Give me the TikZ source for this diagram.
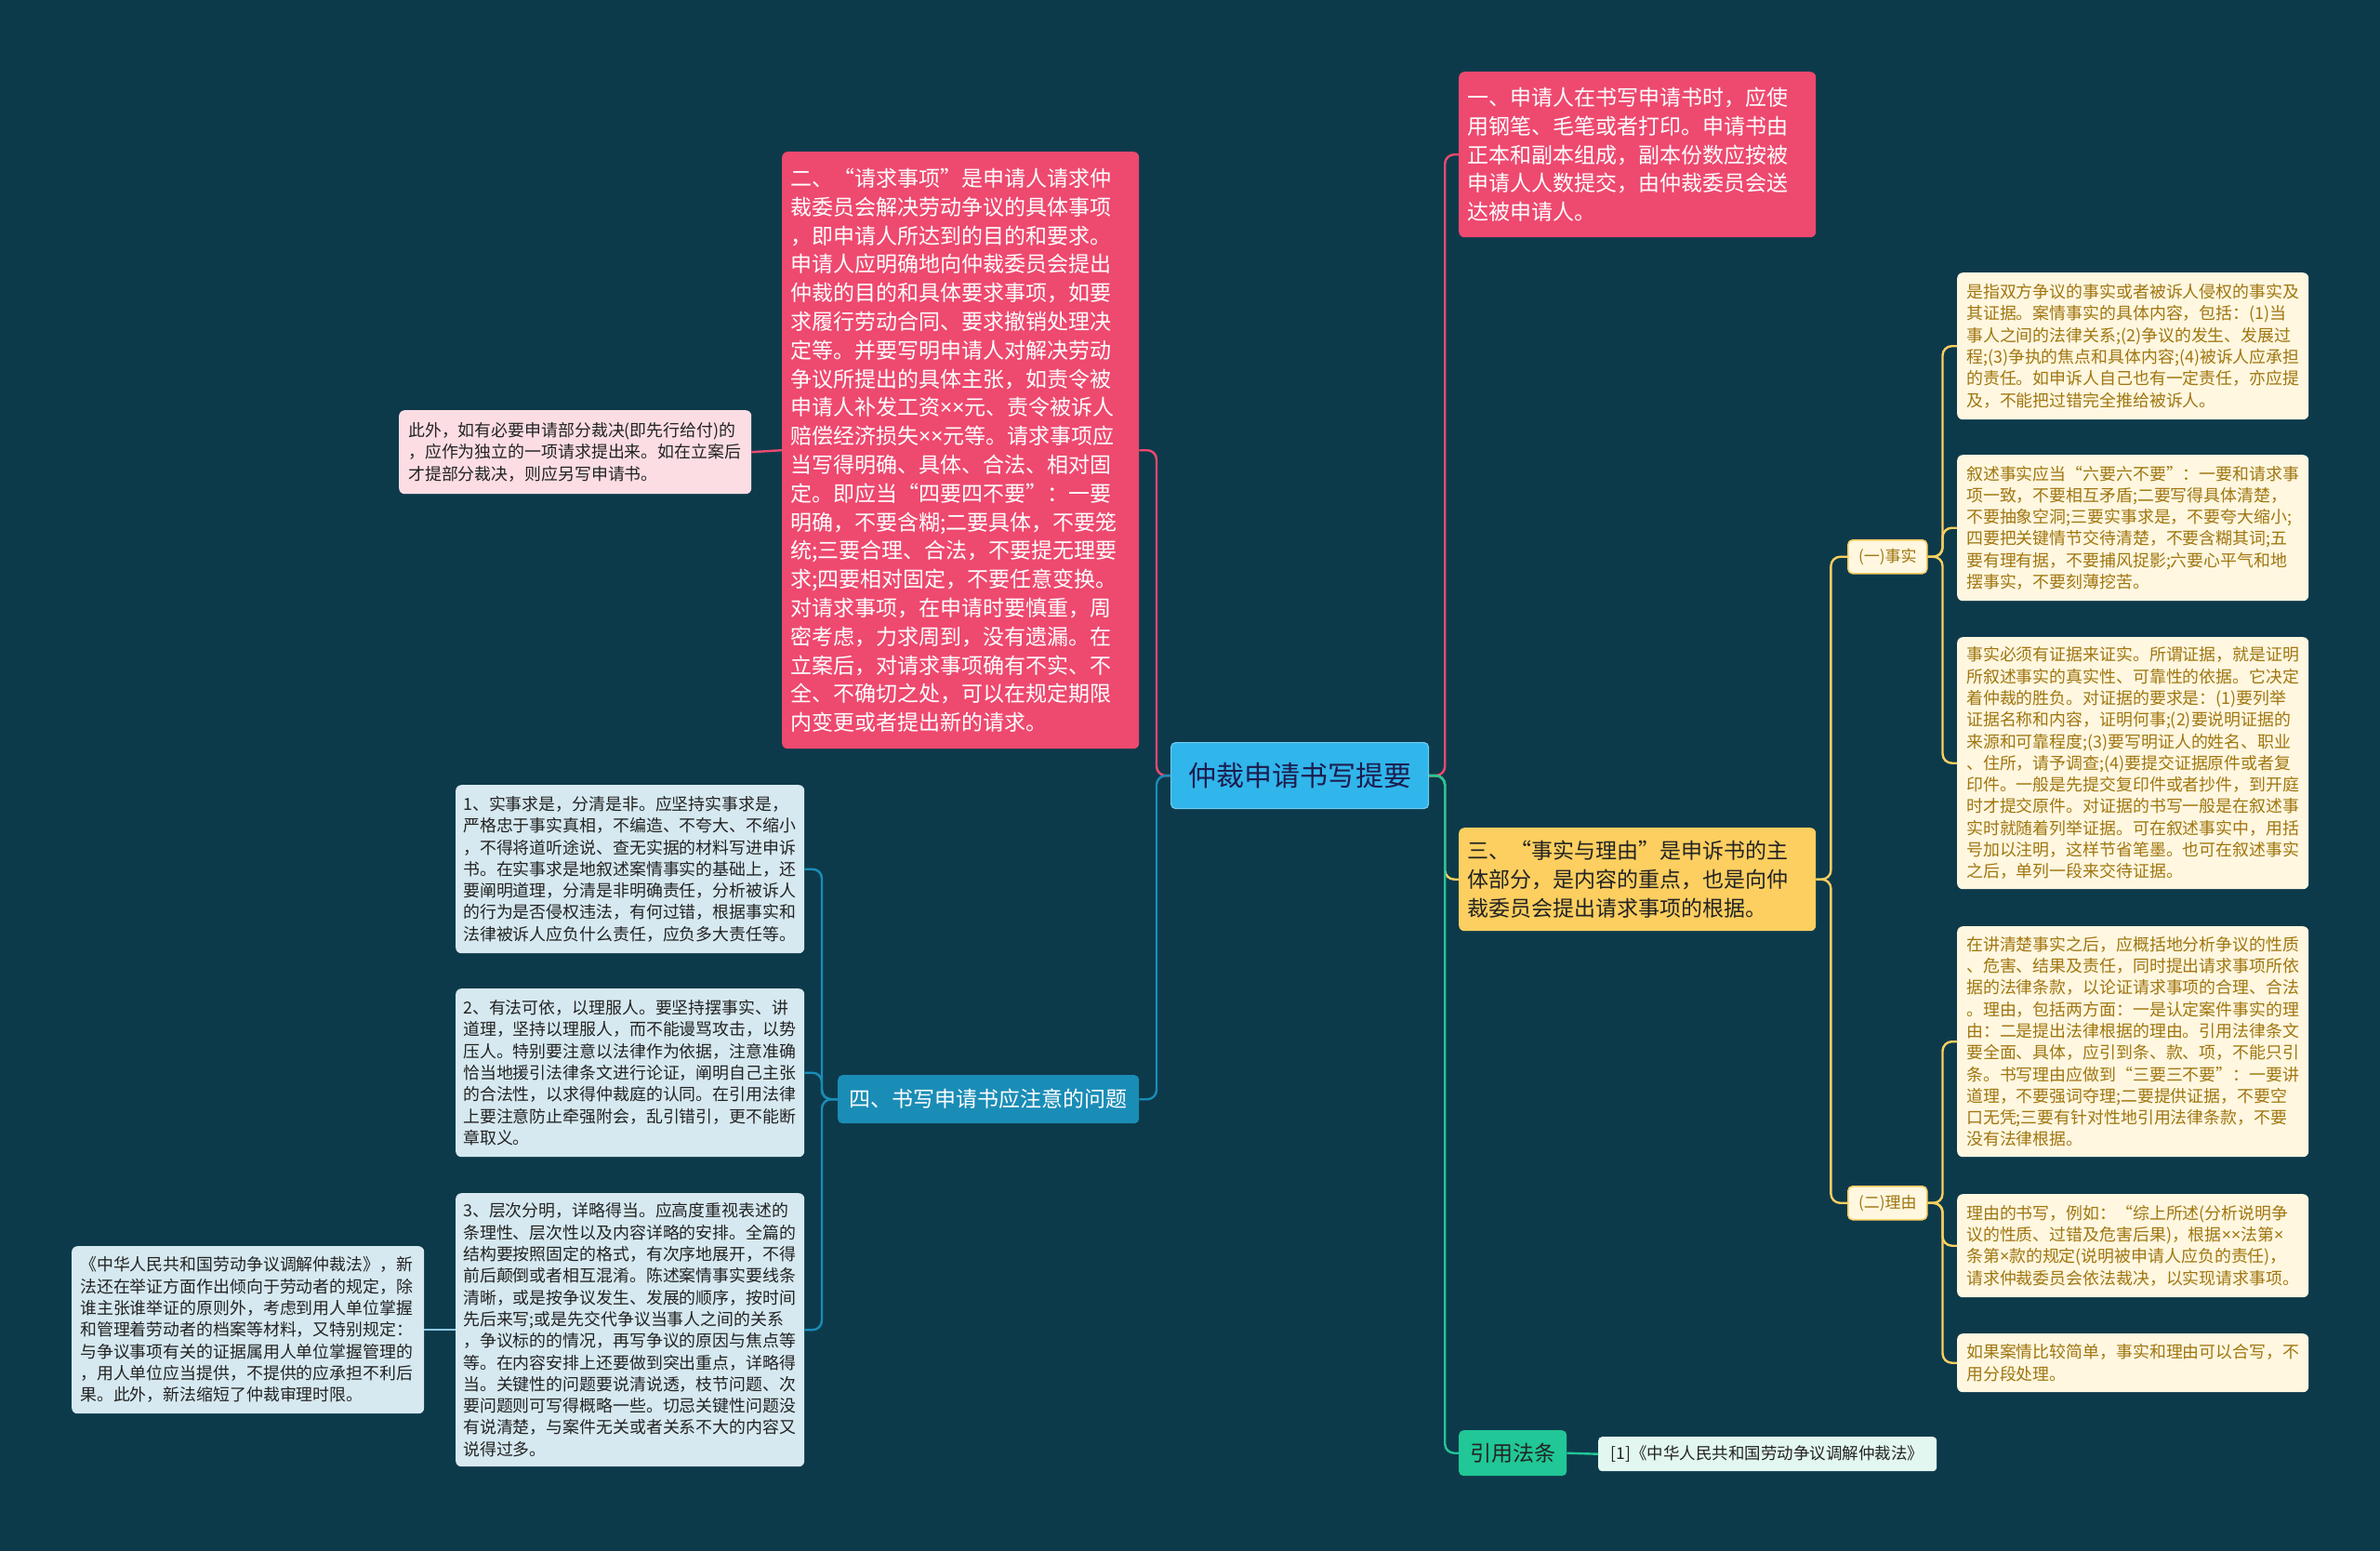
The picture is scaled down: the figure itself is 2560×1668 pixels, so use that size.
\documentclass[tikz,border=0pt]{standalone}
\usepackage{fontspec}
\newfontfamily\cjk{Noto Sans CJK SC}
\newfontfamily\lat{Noto Sans}
\newcommand{\mul}{{\lat ×}}
\definecolor{bgC}{RGB}{13,58,75}
\definecolor{pinkC}{RGB}{238,73,111}
\definecolor{lpinkC}{RGB}{252,221,228}
\definecolor{centerC}{RGB}{48,182,235}
\definecolor{blueC}{RGB}{26,141,183}
\definecolor{lblueC}{RGB}{214,233,240}
\definecolor{llineC}{RGB}{140,200,225}
\definecolor{yellowC}{RGB}{252,207,96}
\definecolor{creamC}{RGB}{255,247,224}
\definecolor{goldC}{RGB}{160,118,16}
\definecolor{greenC}{RGB}{33,199,150}
\definecolor{mintC}{RGB}{226,247,240}
\definecolor{darkC}{RGB}{35,35,35}
\tikzset{
  box/.style={rectangle, rounded corners=6pt, anchor=north west, inner xsep=10pt, inner ysep=0pt, align=left},
  bigtxt/.style={font=\cjk\fontsize{23}{30.8}\selectfont},
  smalltxt/.style={font=\cjk\fontsize{17.9}{23.3}\selectfont},
  pinknode/.style={box, bigtxt, fill=pinkC, text=white, inner xsep=9pt},
  lpinknode/.style={box, smalltxt, fill=lpinkC, text=darkC},
  lbluenode/.style={box, smalltxt, fill=lblueC, text=darkC, inner xsep=8pt},
  creamnode/.style={box, smalltxt, fill=creamC, text=goldC},
  tagnode/.style={rectangle, rounded corners=5pt, anchor=north west, fill=creamC, draw=yellowC, line width=1.5pt, text=goldC, font=\cjk\fontsize{17}{20}\selectfont, inner sep=0pt, align=center},
  conn/.style={line width=2.4pt, rounded corners=10pt},
  pinkline/.style={conn, draw=pinkC},
  blueline/.style={conn, draw=blueC},
  lblueline/.style={conn, draw=llineC},
  yellowline/.style={conn, draw=yellowC},
  greenline/.style={conn, draw=greenC},
}
\begin{document}
\begin{tikzpicture}[x=1pt, y=-1pt]
\fill[bgC] (0,0) rectangle (2560,1668);
\useasboundingbox (0,0) rectangle (2560,1668);

% center
\node[rectangle, rounded corners=5pt, anchor=north west, fill=centerC, draw=centerC!70!white, line width=1.2pt,
      minimum width=277pt, minimum height=71pt, inner sep=0pt, text=darkC!80!blue,
      font=\cjk\fontsize{30}{34}\selectfont] (c) at (1259,798) {仲裁申请书写提要};

% right top pink
\node[pinknode, text width=366pt, minimum height=178pt] (p1) at (1569,77) {一、申请人在书写申请书时，应使\\用钢笔、毛笔或者打印。申请书由\\正本和副本组成，副本份数应按被\\申请人人数提交，由仲裁委员会送\\达被申请人。};

% left big pink
\node[pinknode, text width=366pt, minimum height=642pt] (p2) at (841,163) {二、“请求事项”是申请人请求仲\\裁委员会解决劳动争议的具体事项\\，即申请人所达到的目的和要求。\\申请人应明确地向仲裁委员会提出\\仲裁的目的和具体要求事项，如要\\求履行劳动合同、要求撤销处理决\\定等。并要写明申请人对解决劳动\\争议所提出的具体主张，如责令被\\申请人补发工资\mul\mul 元、责令被诉人\\赔偿经济损失\mul\mul 元等。请求事项应\\当写得明确、具体、合法、相对固\\定。即应当“四要四不要”：一要\\明确，不要含糊;二要具体，不要笼\\统;三要合理、合法，不要提无理要\\求;四要相对固定，不要任意变换。\\对请求事项，在申请时要慎重，周\\密考虑，力求周到，没有遗漏。在\\立案后，对请求事项确有不实、不\\全、不确切之处，可以在规定期限\\内变更或者提出新的请求。};

\node[lpinknode, text width=359pt, minimum height=90pt] (p2a) at (429,441) {此外，如有必要申请部分裁决(即先行给付)的\\，应作为独立的一项请求提出来。如在立案后\\才提部分裁决，则应另写申请书。};

% four
\node[rectangle, rounded corners=5pt, anchor=north west, fill=blueC, text=white, minimum width=324pt, minimum height=52pt, inner sep=0pt,
      font=\cjk\fontsize{23}{26}\selectfont] (n4) at (901,1156) {四、书写申请书应注意的问题};

\node[lbluenode, text width=359pt, minimum height=181pt] (b1) at (490,844) {1、实事求是，分清是非。应坚持实事求是，\\严格忠于事实真相，不编造、不夸大、不缩小\\，不得将道听途说、查无实据的材料写进申诉\\书。在实事求是地叙述案情事实的基础上，还\\要阐明道理，分清是非明确责任，分析被诉人\\的行为是否侵权违法，有何过错，根据事实和\\法律被诉人应负什么责任，应负多大责任等。};

\node[lbluenode, text width=359pt, minimum height=181pt] (b2) at (490,1063) {2、有法可依，以理服人。要坚持摆事实、讲\\道理，坚持以理服人，而不能谩骂攻击，以势\\压人。特别要注意以法律作为依据，注意准确\\恰当地援引法律条文进行论证，阐明自己主张\\的合法性，以求得仲裁庭的认同。在引用法律\\上要注意防止牵强附会，乱引错引，更不能断\\章取义。};

\node[lbluenode, text width=359pt, minimum height=294pt] (b3) at (490,1283) {3、层次分明，详略得当。应高度重视表述的\\条理性、层次性以及内容详略的安排。全篇的\\结构要按照固定的格式，有次序地展开，不得\\前后颠倒或者相互混淆。陈述案情事实要线条\\清晰，或是按争议发生、发展的顺序，按时间\\先后来写;或是先交代争议当事人之间的关系\\，争议标的的情况，再写争议的原因与焦点等\\等。在内容安排上还要做到突出重点，详略得\\当。关键性的问题要说清说透，枝节问题、次\\要问题则可写得概略一些。切忌关键性问题没\\有说清楚，与案件无关或者关系不大的内容又\\说得过多。};

\node[lbluenode, text width=361pt, minimum height=180pt, inner xsep=9pt] (law) at (77,1340) {《中华人民共和国劳动争议调解仲裁法》，新\\法还在举证方面作出倾向于劳动者的规定，除\\谁主张谁举证的原则外，考虑到用人单位掌握\\和管理着劳动者的档案等材料，又特别规定：\\与争议事项有关的证据属用人单位掌握管理的\\，用人单位应当提供，不提供的应承担不利后\\果。此外，新法缩短了仲裁审理时限。};

% three
\node[box, bigtxt, fill=yellowC, text=darkC, text width=366pt, inner xsep=9pt, minimum height=111pt] (y3) at (1569,890) {三、“事实与理由”是申诉书的主\\体部分，是内容的重点，也是向仲\\裁委员会提出请求事项的根据。};

\node[tagnode, minimum width=85pt, minimum height=36pt] (fact) at (1987,580) {(一)事实};
\node[tagnode, minimum width=85pt, minimum height=36pt] (reason) at (1987,1275) {(二)理由};

\node[creamnode, text width=358pt, minimum height=158pt] (cA) at (2105,293) {是指双方争议的事实或者被诉人侵权的事实及\\其证据。案情事实的具体内容，包括：(1)当\\事人之间的法律关系;(2)争议的发生、发展过\\程;(3)争执的焦点和具体内容;(4)被诉人应承担\\的责任。如申诉人自己也有一定责任，亦应提\\及，不能把过错完全推给被诉人。};

\node[creamnode, text width=358pt, minimum height=157pt] (cB) at (2105,489) {叙述事实应当“六要六不要”：一要和请求事\\项一致，不要相互矛盾;二要写得具体清楚，\\不要抽象空洞;三要实事求是，不要夸大缩小;\\四要把关键情节交待清楚，不要含糊其词;五\\要有理有据，不要捕风捉影;六要心平气和地\\摆事实，不要刻薄挖苦。};

\node[creamnode, text width=358pt, minimum height=271pt] (cC) at (2105,685) {事实必须有证据来证实。所谓证据，就是证明\\所叙述事实的真实性、可靠性的依据。它决定\\着仲裁的胜负。对证据的要求是：(1)要列举\\证据名称和内容，证明何事;(2)要说明证据的\\来源和可靠程度;(3)要写明证人的姓名、职业\\、住所，请予调查;(4)要提交证据原件或者复\\印件。一般是先提交复印件或者抄件，到开庭\\时才提交原件。对证据的书写一般是在叙述事\\实时就随着列举证据。可在叙述事实中，用括\\号加以注明，这样节省笔墨。也可在叙述事实\\之后，单列一段来交待证据。};

\node[creamnode, text width=358pt, minimum height=248pt] (cD) at (2105,996) {在讲清楚事实之后，应概括地分析争议的性质\\、危害、结果及责任，同时提出请求事项所依\\据的法律条款，以论证请求事项的合理、合法\\。理由，包括两方面：一是认定案件事实的理\\由：二是提出法律根据的理由。引用法律条文\\要全面、具体，应引到条、款、项，不能只引\\条。书写理由应做到“三要三不要”：一要讲\\道理，不要强词夺理;二要提供证据，不要空\\口无凭;三要有针对性地引用法律条款，不要\\没有法律根据。};

\node[creamnode, text width=358pt, minimum height=111pt] (cE) at (2105,1284) {理由的书写，例如：“综上所述(分析说明争\\议的性质、过错及危害后果)，根据\mul\mul 法第\mul\\条第\mul 款的规定(说明被申请人应负的责任)，\\请求仲裁委员会依法裁决，以实现请求事项。};

\node[creamnode, text width=358pt, minimum height=63pt] (cF) at (2105,1434) {如果案情比较简单，事实和理由可以合写，不\\用分段处理。};

% law reference
\node[rectangle, rounded corners=5pt, anchor=north west, fill=greenC, text=darkC, minimum width=116pt, minimum height=49pt, inner sep=0pt,
      font=\cjk\fontsize{23}{26}\selectfont] (g) at (1569,1538) {引用法条};
\node[rectangle, rounded corners=4pt, anchor=north west, fill=mintC, text=darkC, minimum width=364pt, minimum height=37pt, inner sep=0pt,
      font=\cjk\fontsize{17.5}{20}\selectfont] (gref) at (1719,1545) {[1]《中华人民共和国劳动争议调解仲裁法》};

% connectors left
\draw[pinkline] (c.west) -- ++(-15,0) |- (p2.east);
\draw[blueline] (c.west) -- ++(-15,0) |- (n4.east);
\draw[pinkline] (p2.west) -- (p2a.east);
\draw[blueline] (n4.west) -- ++(-17,0) |- (b1.east);
\draw[blueline] (n4.west) -- ++(-17,0) |- (b2.east);
\draw[blueline] (n4.west) -- ++(-17,0) |- (b3.east);
\draw[lblueline] (b3.west) -- (law.east);

% connectors right
\draw[pinkline] (c.east) -- ++(17,0) |- (p1.west);
\draw[yellowline] (c.east) -- ++(17,0) |- (y3.west);
\draw[greenline] (c.east) -- ++(17,0) |- (g.west);
\draw[greenline] (g.east) -- (gref.west);
\draw[yellowline] (y3.east) -- ++(16,0) |- (fact.west);
\draw[yellowline] (y3.east) -- ++(16,0) |- (reason.west);
\draw[yellowline] (fact.east) -- ++(16,0) |- (cA.west);
\draw[yellowline] (fact.east) -- ++(16,0) |- (cB.west);
\draw[yellowline] (fact.east) -- ++(16,0) |- (cC.west);
\draw[yellowline] (reason.east) -- ++(16,0) |- (cD.west);
\draw[yellowline] (reason.east) -- ++(16,0) |- (cE.west);
\draw[yellowline] (reason.east) -- ++(16,0) |- (cF.west);
\end{tikzpicture}
\end{document}
